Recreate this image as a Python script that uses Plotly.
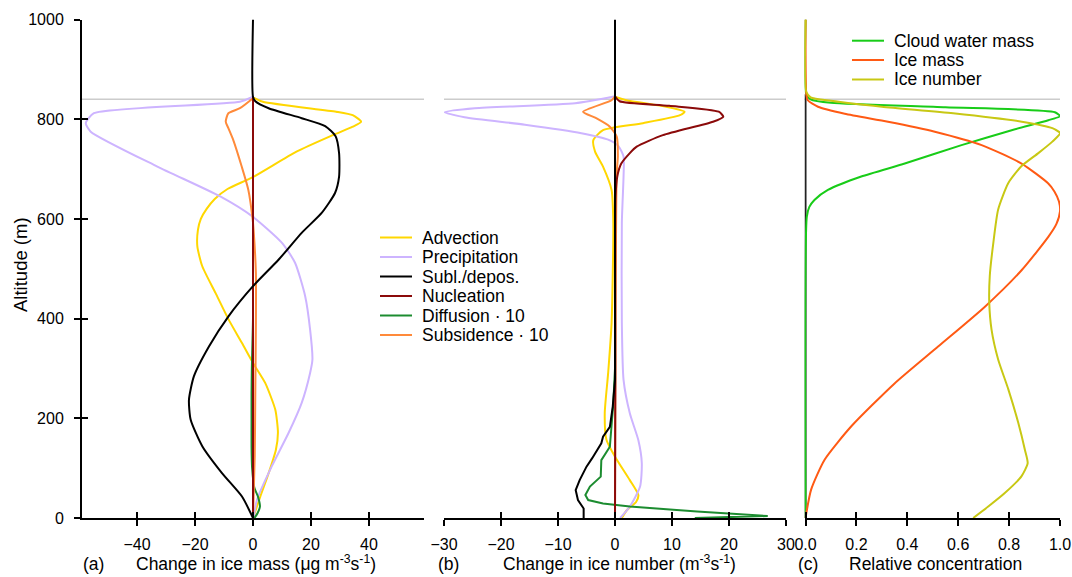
import plotly.graph_objects as go

W, H = 1072, 577

# ---------------- data ----------------
CLOUD_TOP = 840  # altitude of grey reference line (m)

# Panel (a): change in ice mass (ug m-3 s-1)
adv_a_alt = [0, 3, 43, 90, 137, 171, 217, 271, 311, 351, 398, 451, 505, 545, 578, 600, 620, 640, 660, 684, 735, 768, 785, 795, 808, 815, 835, 844]
adv_a_val = [0, 0.2, 2.5, 5.4, 7.9, 8.6, 7.7, 4.2, 0, -3.8, -8.4, -12.9, -17.5, -19.2, -19.0, -18.0, -16.0, -13.2, -8.8, 0, 15.0, 27.5, 34.4, 37.3, 34.4, 28.7, 3.4, 0]

pre_a_alt = [0, 37, 104, 171, 231, 291, 318, 378, 445, 512, 552, 604, 645, 705, 775, 792, 812, 835, 845]
pre_a_val = [0.2, 1.4, 6.5, 12.3, 16.8, 19.7, 20.5, 19.7, 18.0, 14.5, 10.0, 0, -11.3, -33.0, -56.0, -57.7, -54.9, -4.5, 0]

sub_a_alt = [0, 43, 90, 144, 197, 237, 284, 344, 405, 465, 518, 572, 612, 652, 685, 732, 766, 786, 802, 822, 836, 845, 1000]
sub_a_val = [0, -3.8, -10.7, -17.5, -21.5, -22.1, -20.4, -15.2, -8.4, 0, 8.8, 16.8, 23.7, 28.3, 29.7, 29.7, 28.5, 24.9, 16.8, 5.4, 0.8, 0, 0]

nuc_a_alt = [0, 500, 845]
nuc_a_val = [0, 0, 0]

dif_a_alt = [0, 10, 23, 43, 60, 100, 143, 200, 250, 300, 350, 400, 845]
dif_a_val = [0.5, 1.6, 2.4, 1.7, 0.5, -0.3, -0.5, -0.5, -0.5, -0.4, -0.2, 0, 0]

sds_a_alt = [0, 124, 257, 391, 491, 578, 598, 658, 705, 758, 782, 795, 812, 822, 842]
sds_a_val = [0, 0.6, 0.8, 1.0, 1.0, 0.2, -0.1, -1.6, -3.9, -6.8, -8.5, -9.4, -8.5, -4.5, 0]

# Panel (b): change in ice number (m-3 s-1)
adv_b_alt = [0, 16, 32, 46, 76, 123, 157, 210, 291, 391, 592, 658, 705, 735, 758, 778, 792, 808, 815, 825, 838, 845]
adv_b_val = [1.2, 2.1, 3.7, 4.1, 2.6, 0, -1.5, -1.8, -1.2, -0.6, -0.3, -0.6, -2.1, -3.5, -3.8, -2.1, 4.9, 11.4, 12.2, 9.0, 2.0, 0]

pre_b_alt = [0, 23, 63, 110, 156, 210, 277, 391, 592, 685, 725, 746, 759, 772, 789, 804, 814, 822, 832, 846]
pre_b_val = [0.9, 2.6, 4.4, 4.7, 4.1, 2.6, 1.5, 1.2, 1.2, 1.5, 1.5, 0.6, -1.2, -5.9, -15.8, -26.4, -29.9, -24.6, -7.0, 0]

sub_b_alt = [0, 19, 36, 56, 76, 103, 120, 136, 150, 163, 183, 223, 277, 1000]
sub_b_val = [-5.5, -5.5, -6.5, -6.9, -6.2, -5.0, -4.0, -3.2, -2.4, -2.1, -0.9, -0.4, 0, 0]

nuc_b_alt = [0, 300, 645, 685, 711, 732, 745, 768, 795, 805, 815, 827, 836, 846]
nuc_b_val = [0, 0.06, 0.1, 0.4, 1.1, 2.6, 3.8, 8.4, 17.2, 19.0, 18.2, 9.5, 0.8, 0]

dif_b_alt = [0, 4, 13, 23, 29, 36, 46, 63, 83, 116, 143, 183, 230, 300, 846]
dif_b_val = [14.0, 26.8, 14.4, 2.6, -2.1, -4.7, -5.2, -4.4, -2.5, -2.4, -0.9, -0.6, -0.3, 0, 0]

sds_b_alt = [0, 692, 725, 765, 785, 802, 815, 838, 846]
sds_b_val = [0, 0.3, 0.5, 0.3, -0.9, -3.3, -5.6, -0.6, 0]

# Panel (c): relative concentration
cwm_alt = [0, 604, 624, 638, 658, 685, 711, 748, 778, 798, 806, 814, 824, 833, 840, 850, 1000]
cwm_val = [0, 0.005, 0.015, 0.035, 0.088, 0.219, 0.39, 0.613, 0.81, 0.954, 1.0, 0.98, 0.55, 0.1, 0.02, 0.003, 0]

ima_alt = [0, 57, 117, 184, 270, 344, 424, 497, 564, 590, 615, 635, 655, 671, 711, 748, 775, 795, 811, 825, 838, 851, 1000]
ima_val = [0, 0.022, 0.075, 0.18, 0.35, 0.521, 0.705, 0.849, 0.954, 0.986, 1.0, 0.996, 0.978, 0.954, 0.849, 0.692, 0.508, 0.324, 0.154, 0.049, 0.009, 0.003, 0]

inu_alt = [0, 23, 50, 84, 110, 137, 191, 258, 318, 378, 432, 485, 552, 619, 672, 706, 732, 755, 772, 782, 795, 812, 825, 837, 844, 855, 1000]
inu_val = [0.659, 0.718, 0.783, 0.849, 0.873, 0.862, 0.836, 0.797, 0.757, 0.731, 0.722, 0.724, 0.738, 0.757, 0.797, 0.849, 0.915, 0.97, 1.0, 0.97, 0.85, 0.58, 0.3, 0.1, 0.02, 0.003, 0]

C_ZERO_ALT = [0, 850]
C_ZERO_VAL = [0, 0]

a_ticks = [-40, -20, 0, 20, 40]
b_ticks = [-30, -20, -10, 0, 10, 20, 30]
c_ticks = [0.0, 0.2, 0.4, 0.6, 0.8, 1.0]
y_ticks = [0, 200, 400, 600, 800, 1000]

names = ["Advection", "Precipitation", "Subl./depos.", "Nucleation", "Diffusion · 10", "Subsidence · 10"]
colors = ["#ffd700", "#cdb4ff", "#000000", "#8b0a0a", "#1c8c30", "#ff8a3a"]
c_names = ["Cloud water mass", "Ice mass", "Ice number"]
c_colors = ["#18cc18", "#ff5a14", "#c8c814"]

# ---------------- figure ----------------
FONT = "Liberation Sans, Arial, Helvetica, sans-serif"
fig = go.Figure()


def add(xax, alt, val, name, color, shape="spline"):
    fig.add_trace(go.Scatter(
        x=val, y=alt, xaxis=xax, yaxis="y", mode="lines", name=name,
        line=dict(color=color, width=2, shape=shape, smoothing=0.6),
        showlegend=False, hoverinfo="skip"))


a_series = [(adv_a_alt, adv_a_val), (pre_a_alt, pre_a_val), (sub_a_alt, sub_a_val),
            (nuc_a_alt, nuc_a_val), (dif_a_alt, dif_a_val), (sds_a_alt, sds_a_val)]
b_series = [(adv_b_alt, adv_b_val), (pre_b_alt, pre_b_val), (sub_b_alt, sub_b_val),
            (nuc_b_alt, nuc_b_val), (dif_b_alt, dif_b_val), (sds_b_alt, sds_b_val)]
draw_order = [0, 1, 4, 5, 3, 2]  # Subl./depos. on top, then nucleation

for i in draw_order:
    alt, val = a_series[i]
    add("x", alt, val, names[i], colors[i])
for i in draw_order:
    alt, val = b_series[i]
    add("x2", alt, val, names[i], colors[i], shape="linear" if i in (2, 4) else "spline")

# zero line in panel (c)
fig.add_trace(go.Scatter(x=C_ZERO_VAL, y=C_ZERO_ALT, xaxis="x3", yaxis="y", mode="lines",
                         line=dict(color="#222222", width=2), showlegend=False, hoverinfo="skip"))
for (alt, val), n, c in zip([(cwm_alt, cwm_val), (ima_alt, ima_val), (inu_alt, inu_val)], c_names, c_colors):
    add("x3", alt, val, n, c)

# invisible traces to activate overlay axes (inner tick halves)
for xa, ya in [("x4", "y"), ("x5", "y"), ("x6", "y"), ("x", "y2")]:
    fig.add_trace(go.Scatter(x=[None], y=[None], xaxis=xa, yaxis=ya, showlegend=False, hoverinfo="skip"))

# grey cloud-top lines
for xr in ["x domain", "x2 domain", "x3 domain"]:
    fig.add_shape(type="line", xref=xr, yref="y", x0=0, x1=1, y0=CLOUD_TOP, y1=CLOUD_TOP,
                  line=dict(color="#cccccc", width=1.5), layer="below")

dom_a = [82 / W, 424 / W]
dom_b = [444 / W, 786 / W]
dom_c = [804.5 / W, 1060 / W]
y_dom = [(H - 518) / H, (H - 19.5) / H]

axis_common = dict(showline=True, linecolor="black", linewidth=2, ticks="outside", ticklen=6,
                   tickwidth=2, tickcolor="black", showgrid=False, zeroline=False, automargin=False,
                   tickfont=dict(family=FONT, size=16, color="black"), fixedrange=True)
inner_common = dict(showline=False, ticks="inside", ticklen=6, tickwidth=2, tickcolor="black",
                    showgrid=False, zeroline=False, showticklabels=False, fixedrange=True, automargin=False)

fig.update_layout(
    width=W, height=H, autosize=False,
    margin=dict(l=0, r=0, t=0, b=0, pad=0),
    paper_bgcolor="white", plot_bgcolor="rgba(0,0,0,0)",
    font=dict(family=FONT, size=16, color="black"),
    showlegend=False,
    xaxis=dict(domain=dom_a, range=[-59, 59], anchor="y", tickvals=a_ticks, ticklabelstandoff=5, **axis_common),
    xaxis2=dict(domain=dom_b, range=[-30, 30], anchor="y", tickvals=b_ticks, ticklabelstandoff=5, **axis_common),
    xaxis3=dict(domain=dom_c, range=[-0.004, 1], anchor="y", tickvals=c_ticks, tickformat=".1f",
                ticklabelstandoff=5, **axis_common),
    xaxis4=dict(overlaying="x", anchor="y", range=[-59, 59], tickvals=a_ticks, side="bottom", **inner_common),
    xaxis5=dict(overlaying="x2", anchor="y", range=[-30, 30], tickvals=b_ticks, side="bottom", **inner_common),
    xaxis6=dict(overlaying="x3", anchor="y", range=[-0.004, 1], tickvals=c_ticks, side="bottom", **inner_common),
    yaxis=dict(domain=y_dom, range=[0, 1000], anchor="x", tickvals=y_ticks, ticklabelstandoff=7, **axis_common),
    yaxis2=dict(overlaying="y", anchor="x", range=[0, 1000], tickvals=y_ticks, side="left", **inner_common),
)

# legends (line samples + labels)
LEG_FONT = dict(family=FONT, size=17.5, color="black")
leg_a_rows = [237.5, 257, 276.5, 296, 315.5, 335]
for yy, n, c in zip(leg_a_rows, names, colors):
    fig.add_shape(type="line", xref="paper", yref="paper", x0=380 / W, x1=412 / W,
                  y0=1 - yy / H, y1=1 - yy / H, line=dict(color=c, width=2))
    fig.add_annotation(x=420 / W, y=1 - yy / H, xref="paper", yref="paper", text=n, showarrow=False,
                       xanchor="left", yanchor="middle", font=LEG_FONT)
leg_c_rows = [40.7, 60, 79.5]
for yy, n, c in zip(leg_c_rows, c_names, c_colors):
    fig.add_shape(type="line", xref="paper", yref="paper", x0=852 / W, x1=884 / W,
                  y0=1 - yy / H, y1=1 - yy / H, line=dict(color=c, width=2))
    fig.add_annotation(x=892 / W, y=1 - yy / H, xref="paper", yref="paper", text=n, showarrow=False,
                       xanchor="left", yanchor="middle", font=LEG_FONT)

ann_font = dict(family=FONT, size=17.5, color="black")
labels = [
    (93.5, "center", "(a)"),
    (134, "left", "Change in ice mass (μg m<sup>-3</sup>s<sup>-1</sup>)"),
    (448.5, "center", "(b)"),
    (501, "left", "Change in ice number (m<sup>-3</sup>s<sup>-1</sup>)"),
    (807.5, "center", "(c)"),
    (847, "left", "Relative concentration"),
]
for xpix, anchor, txt in labels:
    fig.add_annotation(x=xpix / W, y=1 - 576 / H, xref="paper", yref="paper", text=txt,
                       showarrow=False, xanchor=anchor, yanchor="bottom", font=ann_font)
fig.add_annotation(x=20 / W, y=1 - 265 / H, xref="paper", yref="paper", text="Altitude (m)",
                   textangle=-90, showarrow=False, xanchor="center", yanchor="middle",
                   font=dict(family=FONT, size=18.5, color="black"))

fig.write_html("out.html")
